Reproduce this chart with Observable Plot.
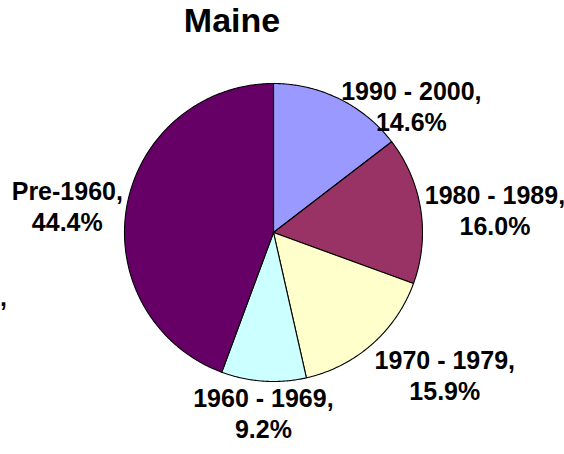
<!DOCTYPE html>
<html>
<head>
<meta charset="utf-8">
<script src="https://cdn.jsdelivr.net/npm/d3@7"></script>
<script src="https://cdn.jsdelivr.net/npm/@observablehq/plot@0.6"></script>
<style>
  html, body { margin: 0; padding: 0; background: #fff; }
  #wrap { position: relative; width: 564px; height: 454px; overflow: hidden; font-family: "Liberation Sans", Arial, sans-serif; }
  #title { width: 464px; height: 40px; line-height: 40px; text-align: center; font-size: 34px; font-weight: bold; color: #000; }
  #stray { position: absolute; left: 0px; top: 285px; font-size: 25px; line-height: 25px; font-weight: bold; color: #000; }
  svg { display: block; }
</style>
</head>
<body>
<div id="wrap">
  <div id="title">Maine</div>
  <span id="stray">,</span>
  <div id="chart"></div>
</div>
<script>
// ---- data ----
const categories = ["1990 - 2000", "1980 - 1989", "1970 - 1979", "1960 - 1969", "Pre-1960"];
const percents = [14.6, 16.0, 15.9, 9.2, 44.4];
const colors = ["#9999FF", "#993366", "#FFFFCC", "#CCFFFF", "#660066"];

// ---- layout ----
const W = 564, H = 414;
const cx = 273, cy = 192, r = 149;
const fontSize = 25, lineHeight = 1.24;
const fontFamily = "Liberation Sans, Arial, sans-serif";
const labelGap = 4;        // px outside the rim
const labelTopLimit = 37;  // labels may not rise above this (px in svg)

const rows = categories.map((c, i) => ({cat: c, pct: percents[i]}));
const arcs = d3.pie().sort(null).value(d => d.pct)(rows);

// slice outlines (data units: unit circle, y up)
const pathRows = [];
arcs.forEach(a => {
  const cat = a.data.cat;
  pathRows.push({cat, x: 0, y: 0});
  const n = Math.max(2, Math.ceil((a.endAngle - a.startAngle) / (Math.PI / 360)));
  for (let k = 0; k <= n; k++) {
    const t = a.startAngle + (a.endAngle - a.startAngle) * k / n;
    pathRows.push({cat, x: Math.sin(t), y: Math.cos(t)});
  }
  pathRows.push({cat, x: 0, y: 0});
});

const xs = d3.scaleLinear([-1, 1], [cx - r, cx + r]);
const ys = d3.scaleLinear([-1, 1], [cy + r, cy - r]);

const ctx = document.createElement("canvas").getContext("2d");
ctx.font = `bold ${fontSize}px "Liberation Sans", Arial, sans-serif`;

// labels: outside end, anchored by compass direction of the slice midpoint, lines centred
const k = (r + labelGap) / r;
const labelMarks = arcs.map(a => {
  const th = (a.startAngle + a.endAngle) / 2;
  const s = Math.sin(th), c = Math.cos(th);
  const dir = Math.round(((th * 180 / Math.PI) % 360) / 45) % 8; // 0=N,1=NE,...
  const fx = [0.5, 0, 0, 0, 0.5, 1, 1, 1][dir];
  let la = ["bottom", "bottom", "middle", "top", "top", "top", "middle", "bottom"][dir];
  const lines = [`${a.data.cat},`, `${a.data.pct.toFixed(1)}%`];
  const w = Math.max(...lines.map(t => ctx.measureText(t).width));
  const pxX = xs(s * k) + (0.5 - fx) * w;
  let y = c * k;
  const blockH = 0.71 * fontSize + (lines.length - 1) * lineHeight * fontSize;
  const ypx = ys(y);
  const topPx = la === "top" ? ypx : la === "bottom" ? ypx - blockH : ypx - blockH / 2;
  if (topPx < labelTopLimit) { la = "top"; y = ys.invert(labelTopLimit); }
  return Plot.text([{x: xs.invert(pxX), y, text: lines.join("\n")}], {
    x: "x", y: "y", text: "text",
    textAnchor: "middle", lineAnchor: la, lineHeight,
    fontSize, fontWeight: "bold", fill: "#000", fontFamily
  });
});

const chart = Plot.plot({
  width: W, height: H,
  margin: 0,
  x: {domain: [-1, 1], range: [cx - r, cx + r], axis: null},
  y: {domain: [-1, 1], range: [cy + r, cy - r], axis: null},
  color: {domain: categories, range: colors},
  style: {background: "#fff", fontFamily},
  marks: [
    Plot.line(pathRows, {x: "x", y: "y", z: "cat", fill: "cat", stroke: "#000", strokeWidth: 1.1, strokeLinejoin: "round", curve: "linear"}),
    ...labelMarks
  ]
});
document.getElementById("chart").appendChild(chart);
</script>
</body>
</html>
